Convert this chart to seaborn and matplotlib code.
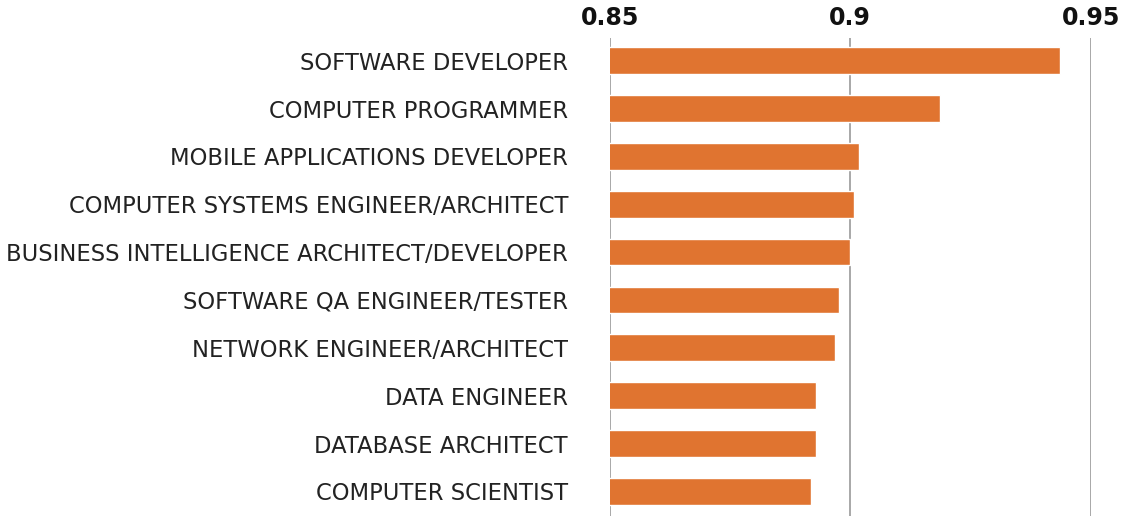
import matplotlib
matplotlib.use("Agg")
import matplotlib.pyplot as plt
import pandas as pd
import seaborn as sns

# Data
roles = [
    "SOFTWARE DEVELOPER",
    "COMPUTER PROGRAMMER",
    "MOBILE APPLICATIONS DEVELOPER",
    "COMPUTER SYSTEMS ENGINEER/ARCHITECT",
    "BUSINESS INTELLIGENCE ARCHITECT/DEVELOPER",
    "SOFTWARE QA ENGINEER/TESTER",
    "NETWORK ENGINEER/ARCHITECT",
    "DATA ENGINEER",
    "DATABASE ARCHITECT",
    "COMPUTER SCIENTIST",
]
scores = [0.9436, 0.9187, 0.9018, 0.9007, 0.8999, 0.8977, 0.8968, 0.8928, 0.8928, 0.8918]
ticks = [0.85, 0.9, 0.95]
tick_labels = ["0.85", "0.9", "0.95"]

df = pd.DataFrame({"role": roles, "score": scores})

sns.set_style("white")
plt.rcParams["font.family"] = ["DejaVu Sans"]

fig = plt.figure(figsize=(11.25, 5.16), dpi=100)
ax = fig.add_axes([609.7 / 1125, 0.0, (1090.7 - 609.7) / 1125, 1 - 38 / 516])

sns.barplot(data=df, x="score", y="role", orient="h", color="#E07430",
            saturation=1, width=0.56, ax=ax, zorder=3)

ax.set_xlim(0.85, 0.95)
ax.set_ylim(9.515, -0.474)
ax.set_xticks(ticks)
ax.set_xticklabels(tick_labels, fontsize=17, fontweight="bold", color="#111111")
ax.xaxis.tick_top()
ax.tick_params(axis="x", length=0, pad=6)
ax.tick_params(axis="y", length=0, pad=30, labelsize=16.3, labelcolor="#222222")
ax.grid(axis="x", color="#9a9a9a", linewidth=1.2, zorder=0)
ax.set_axisbelow(True)
for s in ax.spines.values():
    s.set_visible(False)
ax.set_xlabel("")
ax.set_ylabel("")

fig.savefig("out.png", dpi=100)
